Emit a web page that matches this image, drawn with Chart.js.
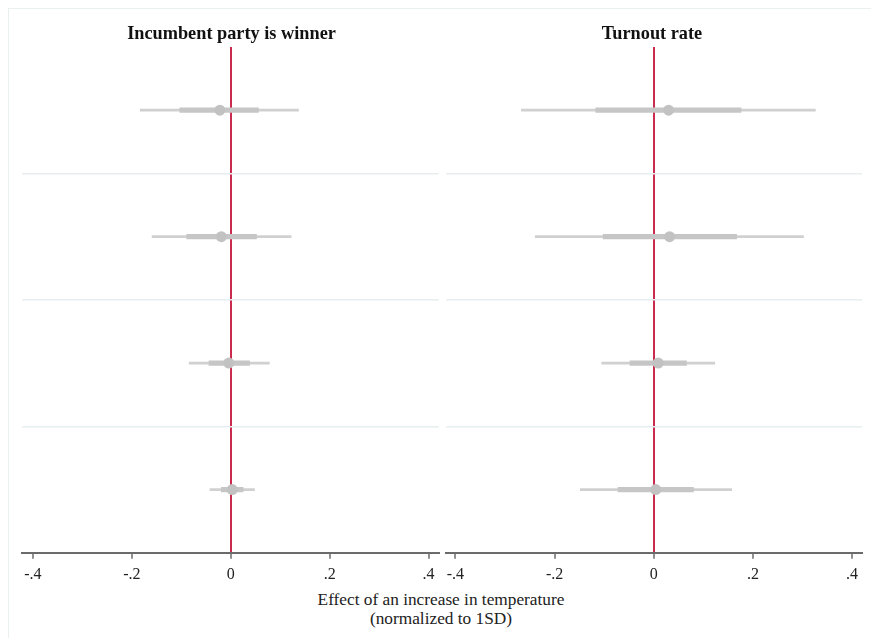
<!DOCTYPE html>
<html>
<head>
<meta charset="utf-8">
<script src="https://cdn.jsdelivr.net/npm/chart.js@4/dist/chart.umd.min.js"></script>
<style>
  html, body { margin: 0; padding: 0; background: #fff; }
  #wrap { position: relative; width: 871px; height: 638px; overflow: hidden; }
  #frame { position: absolute; left: 8px; top: 8px; width: 870px; height: 640px;
           border-top: 1px solid #eaeff0; border-left: 1px solid #eaeff0; }
  .panel { position: absolute; top: 0; }
  #left { left: 0; width: 444px; height: 590px; }
  #right { left: 440px; width: 431px; height: 590px; }
  #xtitle { position: absolute; left: 241px; width: 400px; top: 590px; text-align: center;
            font-family: "Liberation Serif", serif; font-size: 17.3px; line-height: 19px; color: #222; }
</style>
</head>
<body>
<div id="wrap">
  <div id="frame"></div>
  <div class="panel" id="left"><canvas id="c1"></canvas></div>
  <div class="panel" id="right"><canvas id="c2"></canvas></div>
  <div id="xtitle">Effect of an increase in temperature<br>(normalized to 1SD)</div>
</div>
<script>
// Four specifications, top to bottom
const specs = ['Spec 1', 'Spec 2', 'Spec 3', 'Spec 4'];
const tickVals = [-0.4, -0.2, 0, 0.2, 0.4];

// Incumbent party is winner
const incPoint = [-0.022, -0.019, -0.004, 0.003];
const incLo95 = [-0.183, -0.159, -0.084, -0.042];
const incHi95 = [0.137, 0.122, 0.078, 0.048];
const incLo90 = [-0.103, -0.089, -0.044, -0.019];
const incHi90 = [0.056, 0.052, 0.038, 0.025];

// Turnout rate
const turnPoint = [0.030, 0.032, 0.009, 0.004];
const turnLo95 = [-0.267, -0.239, -0.105, -0.148];
const turnHi95 = [0.326, 0.302, 0.123, 0.157];
const turnLo90 = [-0.117, -0.102, -0.048, -0.072];
const turnHi90 = [0.176, 0.167, 0.066, 0.080];

const SERIF = '"Liberation Serif", "Times New Roman", serif';

function fmt(v) {
  if (Math.abs(v) < 1e-9) return '0';
  return (v < 0 ? '-' : '') + Math.abs(v).toFixed(1).replace(/^0/, '');
}

function makePanel(id, title, point, lo95, hi95, lo90, hi90, xmin, xmax, pad) {
  new Chart(document.getElementById(id), {
    type: 'bar',
    data: {
      labels: specs,
      datasets: [
        {
          type: 'line',
          data: point,
          showLine: false,
          pointRadius: 5.5,
          pointHoverRadius: 5.5,
          pointBackgroundColor: '#c2c2c2',
          pointBorderWidth: 0,
          order: 0
        },
        {
          data: lo90.map((v, i) => [v, hi90[i]]),
          backgroundColor: '#c6c6c6',
          barThickness: 4.5,
          grouped: false,
          order: 1
        },
        {
          data: lo95.map((v, i) => [v, hi95[i]]),
          backgroundColor: '#d0d0d0',
          barThickness: 2,
          grouped: false,
          order: 2
        }
      ]
    },
    options: {
      indexAxis: 'y',
      responsive: true,
      maintainAspectRatio: false,
      animation: false,
      layout: { padding: { left: pad.left, right: pad.right, top: 0, bottom: 0 } },
      plugins: {
        legend: { display: false },
        tooltip: { enabled: false },
        title: {
          display: true,
          text: title,
          color: '#111',
          font: { family: SERIF, size: 18.3, weight: 'bold' },
          padding: { top: 23, bottom: 2 }
        }
      },
      scales: {
        x: {
          type: 'linear',
          min: xmin,
          max: xmax,
          z: 1,
          afterBuildTicks: (s) => { s.ticks = tickVals.map((v) => ({ value: v })); },
          ticks: {
            callback: (v) => fmt(v),
            color: '#222',
            padding: 6,
            maxRotation: 0,
            autoSkip: false,
            font: { family: SERIF, size: 16 }
          },
          grid: {
            drawOnChartArea: true,
            color: (c) => (c.tick && Math.abs(c.tick.value) < 1e-9 ? 'rgba(196,20,60,0.9)' : 'rgba(0,0,0,0)'),
            lineWidth: 2,
            tickColor: '#6b6b6b',
            tickLength: 6,
            tickWidth: 1.5
          },
          border: { display: true, color: '#6b6b6b', width: 2 }
        },
        y: {
          type: 'category',
          offset: true,
          ticks: { display: false },
          border: { display: false },
          grid: {
            offset: true,
            drawTicks: false,
            color: (c) => (c.index === 0 || c.index === specs.length ? 'rgba(0,0,0,0)' : '#e6eef0'),
            lineWidth: 1.5
          }
        }
      }
    }
  });
}

makePanel('c1', 'Incumbent party is winner', incPoint, incLo95, incHi95, incLo90, incHi90,
  -0.422, 0.42, { left: 22, right: 3 });
makePanel('c2', 'Turnout rate', turnPoint, turnLo95, turnHi95, turnLo90, turnHi90,
  -0.42, 0.42, { left: 2, right: 9 });
</script>
</body>
</html>
